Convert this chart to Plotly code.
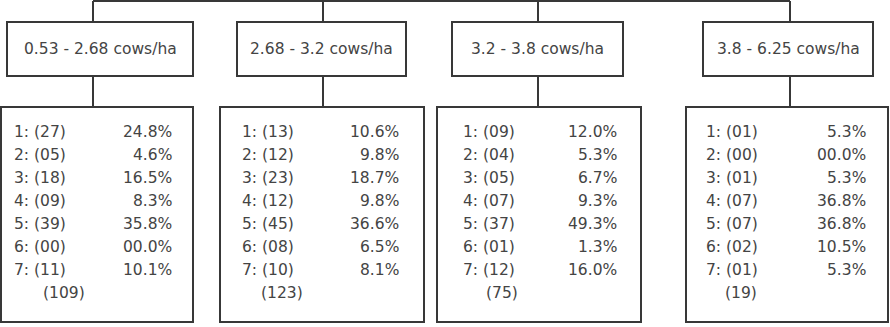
import plotly.graph_objects as go

# Stocking-rate groups and their class counts / shares
groups = ["0.53 - 2.68 cows/ha", "2.68 - 3.2 cows/ha", "3.2 - 3.8 cows/ha", "3.8 - 6.25 cows/ha"]
classes = [1, 2, 3, 4, 5, 6, 7]
counts = [
    [27, 5, 18, 9, 39, 0, 11],
    [13, 12, 23, 12, 45, 8, 10],
    [9, 4, 5, 7, 37, 1, 12],
    [1, 0, 1, 7, 7, 2, 1],
]
percents = [
    [24.8, 4.6, 16.5, 8.3, 35.8, 0.0, 10.1],
    [10.6, 9.8, 18.7, 9.8, 36.6, 6.5, 8.1],
    [12.0, 5.3, 6.7, 9.3, 49.3, 1.3, 16.0],
    [5.3, 0.0, 5.3, 36.8, 36.8, 10.5, 5.3],
]
totals = [109, 123, 75, 19]

# layout geometry (pixel coords, y down)
W, H = 890, 327
header_boxes = [(7, 193), (237, 406), (452, 623), (703, 873)]
data_boxes = [(1, 193), (220, 424), (437, 641), (686, 888)]
stems = [93, 323, 538, 790]
label_x = [12, 240, 461, 704]
pct_x = [174, 401, 619, 868]
total_x = [41, 259, 484, 723]
ROW0, ROW_STEP = 131.5, 23.0

LINE = dict(color="#383838", width=2)
TXT = dict(family="DejaVu Sans, sans-serif", size=15.5, color="#444444")

fig = go.Figure()
shapes = []
annotations = []

# top connector
shapes.append(dict(type="line", x0=stems[0], x1=stems[-1], y0=1, y1=1, line=LINE))

for g in range(len(groups)):
    hx0, hx1 = header_boxes[g]
    dx0, dx1 = data_boxes[g]
    sx = stems[g]
    shapes.append(dict(type="line", x0=sx, x1=sx, y0=1, y1=22, line=LINE))
    shapes.append(dict(type="rect", x0=hx0, x1=hx1, y0=22, y1=76, line=LINE))
    shapes.append(dict(type="line", x0=sx, x1=sx, y0=76, y1=107, line=LINE))
    shapes.append(dict(type="rect", x0=dx0, x1=dx1, y0=107, y1=322, line=LINE))

    annotations.append(dict(x=(hx0 + hx1) / 2, y=49, text=groups[g], showarrow=False,
                            xanchor="center", yanchor="middle", font=TXT))
    for i, c in enumerate(classes):
        y = ROW0 + i * ROW_STEP
        annotations.append(dict(x=label_x[g], y=y, text=f"{c}: ({counts[g][i]:02d})",
                                showarrow=False, xanchor="left", yanchor="middle", font=TXT))
        p = percents[g][i]
        ptxt = "00.0%" if p == 0 else f"{p:.1f}%"
        annotations.append(dict(x=pct_x[g], y=y, text=ptxt, showarrow=False,
                                xanchor="right", yanchor="middle", font=TXT))
    annotations.append(dict(x=total_x[g], y=ROW0 + 7 * ROW_STEP, text=f"({totals[g]})",
                            showarrow=False, xanchor="left", yanchor="middle", font=TXT))

for s in shapes:
    s.update(xref="x", yref="y", layer="above")

fig.update_layout(
    width=W, height=H,
    margin=dict(l=0, r=0, t=0, b=0),
    paper_bgcolor="white", plot_bgcolor="white",
    xaxis=dict(range=[0, W], visible=False, fixedrange=True),
    yaxis=dict(range=[H, 0], visible=False, fixedrange=True),
    shapes=shapes, annotations=annotations,
    showlegend=False,
)

# drop the default 8px page margin so the figure sits at the window origin
fig.write_html("out.html", config={"displayModeBar": False},
               post_script="document.body.style.margin='0';document.body.style.overflow='hidden';")
